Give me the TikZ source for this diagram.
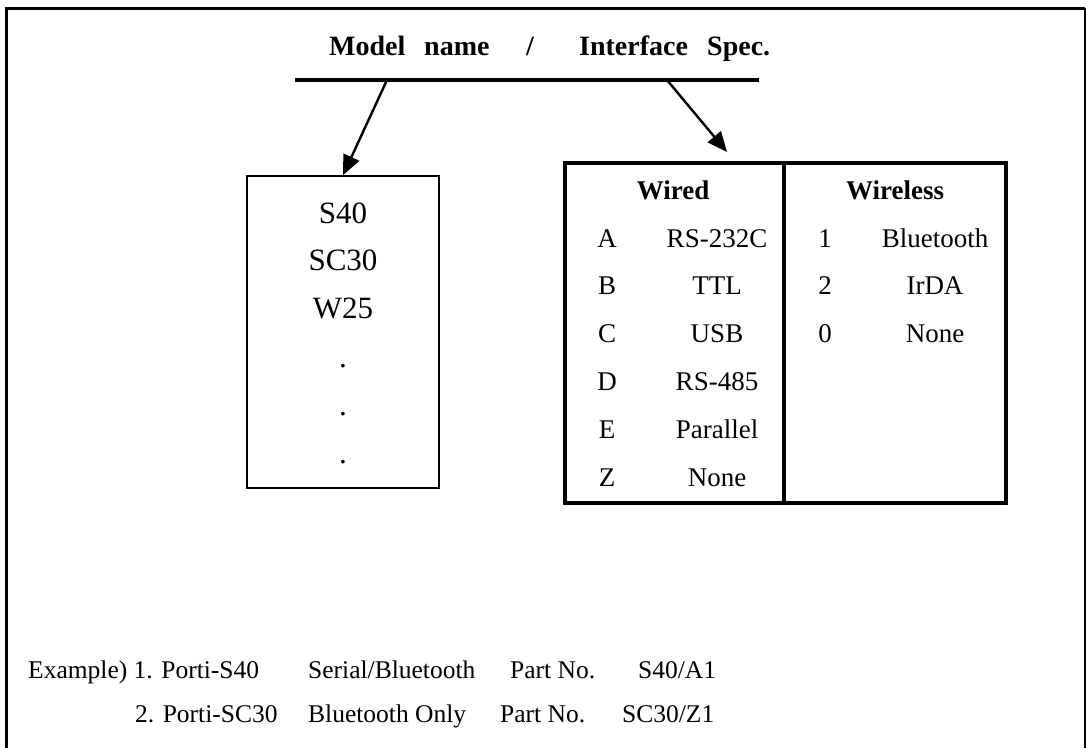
\documentclass[tikz,border=0pt]{standalone}
\usepackage{fontspec}
\setmainfont{Liberation Serif}
\usetikzlibrary{arrows.meta}
\begin{document}
\begin{tikzpicture}[x=1pt,y=-1pt,
  txt/.style={inner sep=0pt,anchor=base,font=\fontsize{27}{30}\selectfont},
  txtw/.style={inner sep=0pt,anchor=base west,font=\fontsize{25.5}{28}\selectfont},
  big/.style={inner sep=0pt,anchor=base,font=\fontsize{31}{34}\selectfont},
  head/.style={inner sep=0pt,anchor=base west,font=\bfseries\fontsize{28}{30}\selectfont},
  arr/.style={line width=2.4pt,-{Triangle[length=20pt,width=17pt]}}]
\useasboundingbox (0,0) rectangle (1087,748);
% frame
\draw[line width=3pt] (6,748) -- (6,8) -- (1085,8);
\draw[line width=2pt] (1085,8) -- (1085,748);
% title
\node[head] (t1) at (329,55) {Model};
\node[head] (t2) at (424,55) {name};
\node[head] (t3) at (526,55) {/};
\node[head] (t4) at (579,55) {Interface};
\node[head] (t5) at (707,55) {Spec.};
\coordinate (la) at (295,80);
\coordinate (lb) at (759,80);
\draw[line width=4pt] (la) -- (lb);
\coordinate (ls) at (387,80);
\coordinate (rs) at (667,80);
\coordinate (rtip) at (727,152);
% left box
\node[draw,line width=1.5pt,minimum width=192pt,minimum height=312pt,inner sep=0pt] (models) at (343,332) {};
\draw[arr] (ls) -- (models.north);
\draw[arr] (rs) -- (rtip);
\node[big] (m1) at (343,223) {S40};
\node[big] (m2) at (343,270) {SC30};
\node[big] (m3) at (343,318) {W25};
\node[big] (d1) at (343,367) {.};
\node[big] (d2) at (343,415) {.};
\node[big] (d3) at (343,463) {.};
% right box
\node[draw,line width=3.5pt,minimum width=441pt,minimum height=340pt,inner sep=0pt] (iface) at (785.5,333) {};
\coordinate (dtop) at (784,163);
\coordinate (dbot) at (784,503);
\draw[line width=3.5pt] (dtop) -- (dbot);
\node[txt,font=\bfseries\fontsize{27}{30}\selectfont] (wired) at (673,199) {Wired};
\node[txt,font=\bfseries\fontsize{27}{30}\selectfont] (wireless) at (895,199) {Wireless};
\foreach \k/\v/\y [count=\i] in {A/RS-232C/247,B/TTL/294,C/USB/342,D/RS-485/390,E/Parallel/438,Z/None/486}{
  \node[txt] (wk\i) at (607,\y) {\k};
  \node[txt] (wv\i) at (717,\y) {\v};
}
\foreach \k/\v/\y [count=\i] in {1/Bluetooth/247,2/IrDA/294,0/None/342}{
  \node[txt] (lk\i) at (825,\y) {\k};
  \node[txt] (lv\i) at (935,\y) {\v};
}
% examples
\node[txtw] (e1a) at (28,678) {Example) 1. Porti-S40};
\node[txtw] (e1b) at (308,678) {Serial/Bluetooth};
\node[txtw] (e1c) at (510,678) {Part No.};
\node[txtw] (e1d) at (638,678) {S40/A1};
\node[txtw] (e2a) at (135,722) {2. Porti-SC30};
\node[txtw] (e2b) at (308,722) {Bluetooth Only};
\node[txtw] (e2c) at (500,722) {Part No.};
\node[txtw] (e2d) at (622,722) {SC30/Z1};
\end{tikzpicture}
\end{document}
